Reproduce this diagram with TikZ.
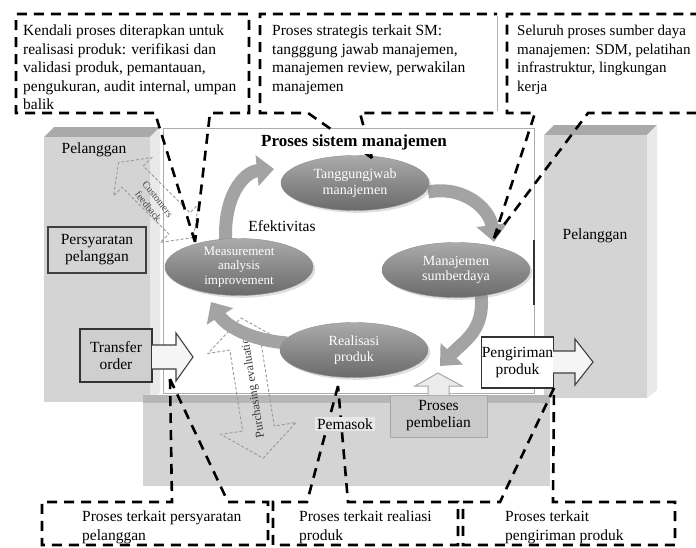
\documentclass[tikz,border=0pt]{standalone}
\usepackage{fontspec}
\setmainfont{Liberation Serif}
\usetikzlibrary{arrows.meta,shapes.geometric,shadows}
\definecolor{boxfront}{HTML}{D4D4D4}
\definecolor{boxtop}{HTML}{A9A9A9}
\definecolor{boxside}{HTML}{E9E9E9}
\begin{document}
\begin{tikzpicture}[x=1pt,y=-1pt,
  txt/.style={font=\fontsize{15.5}{18.5}\selectfont, align=left, inner sep=0pt, anchor=north west},
  cline/.style={line width=2.6pt, dash pattern=on 10pt off 7pt, line join=miter},
  proc/.style={ellipse, minimum width=148pt, minimum height=55pt, top color=black!33, bottom color=black!58, middle color=black!46, draw=black!45, text=white, font=\fontsize{14}{15.5}\selectfont, align=center, inner sep=0pt, drop shadow={opacity=0.25}},
  flow/.style={line width=13pt, draw=black!36, -{Triangle[width=30pt,length=17pt]}},
  ghost/.style={draw=gray!80, line width=0.9pt, dash pattern=on 3pt off 2pt},
  lbl/.style={font=\fontsize{15.5}{17}\selectfont, align=center, inner sep=0pt}
]
\useasboundingbox (0,0) rectangle (696,547);

% left customer block
\fill[boxtop] (44,137) -- (54,127) -- (160,127) -- (150,137) -- cycle;
\fill[boxside] (150,137) -- (160,127) -- (160,393) -- (150,402) -- cycle;
\fill[boxfront] (44,137) rectangle (150,402);
\node[lbl] (custL) at (94,150) {Pelanggan};

% right customer block
\fill[boxtop] (544,135) -- (554,125) -- (657,125) -- (647,135) -- cycle;
\fill[boxside] (647,135) -- (657,125) -- (657,390) -- (647,398) -- cycle;
\fill[boxfront] (544,135) rectangle (647,398);
\node[lbl] (custR) at (595,236) {Pelanggan};

% supplier band
\fill[boxfront] (143,395) rectangle (550,486);
\fill[boxtop!70!boxfront] (143,395) rectangle (550,403);

% management system frame
\draw[gray!65, line width=1pt, fill=white] (163,128) rectangle (534,393);
\draw[black!80, line width=1.5pt] (534,240) -- (534,305);

% dashed exchange arrows
\begin{scope}[shift={(156,200)}, rotate=135]
\draw[ghost] (-53,0) -- (-33,-27) -- (-33,-15) -- (33,-15) -- (33,-27) -- (53,0) -- (33,27) -- (33,15) -- (-33,15) -- (-33,27) -- cycle;
\end{scope}
\node[font=\fontsize{10}{12}\selectfont, text=gray!55!black, rotate=-52, align=center, inner sep=0pt] (fb) at (153,203) {Customers\\feedback};

\begin{scope}[shift={(252,388)}, rotate=-81]
\draw[ghost] (-71,0) -- (-41,-38) -- (-41,-16) -- (41,-16) -- (41,-38) -- (71,0) -- (41,38) -- (41,16) -- (-41,16) -- (-41,38) -- cycle;
\end{scope}
\node[font=\fontsize{12}{12}\selectfont, text=gray!45!black, rotate=99, inner sep=0pt] (pe) at (253,385) {Purchasing evaluation};

% cycle arrows
\draw[flow] (226,246) .. controls (222,198) and (243,172) .. (274,169);
\draw[flow] (428,192) .. controls (465,185) and (490,210) .. (494,242);
\draw[flow] (481,294) .. controls (485,330) and (465,340) .. (440,366);
\draw[flow] (287,343) .. controls (250,340) and (226,326) .. (211,302);

% processes
\node[proc] (tj) at (355,183) {Tanggungjwab\\manajemen};
\node[proc, minimum height=50pt, font=\fontsize{13}{14.5}\selectfont] (mai) at (239,267) {Measurement\\analysis\\improvement};
\node[proc] (ms) at (456,270) {Manajemen\\sumberdaya};
\node[proc] (rp) at (354,350) {Realisasi\\produk};
\node[lbl] (ef) at (282,226) {Efektivitas};

% inputs / outputs
\node[lbl, draw=black!75, line width=1.3pt, fill=boxfront, minimum width=98pt, minimum height=46pt] (req) at (97,250) {Persyaratan\\pelanggan};
\node[lbl, draw=black!80, line width=1.3pt, fill=gray!38, minimum width=72pt, minimum height=53pt] (tro) at (116,355.5) {Transfer\\order};
\draw[black!75, line width=1.1pt, fill=gray!8] (152,345) -- (176,345) -- (176,333) -- (193,357) -- (176,381) -- (176,369) -- (152,369);
\node[lbl, draw=black!80, line width=1.2pt, fill=white, minimum width=71pt, minimum height=51pt] (kirim) at (517.5,362.5) {Pengiriman\\produk};
\draw[black!75, line width=1.1pt, fill=gray!8] (553,351) -- (575,351) -- (575,339) -- (593,362) -- (575,385) -- (575,373) -- (553,373);
\node[lbl, draw=gray!70, line width=1pt, fill=gray!42, minimum width=97pt, minimum height=42pt] (beli) at (438.5,416) {Proses\\pembelian};
\draw[gray!70, line width=1pt, fill=gray!15] (428,395) -- (428,386) -- (415,386) -- (438,373) -- (462,386) -- (449,386) -- (449,395);

% callout targets
\coordinate (tA) at (195,242);
\coordinate (tB) at (372,158);
\coordinate (tC) at (494,238);
\coordinate (tD) at (170,379);
\coordinate (tE) at (338,386);
\coordinate (tF) at (554,388);

% callout frames
\draw[cline] (tA) -- (155,113) -- (16,113) -- (16,14) -- (249,14) -- (249,113) -- (210,113) -- cycle;
\draw[cline] (tB) -- (308,113) -- (260,113) -- (260,14) -- (497,14);
\draw[cline] (tB) -- (360,113) -- (497,113);
\draw[gray!60, line width=0.6pt] (497,16) -- (497,111);
\draw[cline] (tC) -- (535,113) -- (507,113) -- (507,14) -- (696,14);
\draw[cline] (tC) -- (588,113) -- (696,113);
\draw[cline] (tD) -- (172,502) -- (42,502) -- (42,545) -- (268,545) -- (268,502) -- (228,502) -- cycle;
\draw[cline] (tE) -- (307,502) -- (273,502) -- (273,545) -- (458,545) -- (458,502) -- (348,502) -- cycle;
\draw[cline] (tF) -- (500,502) -- (463,502) -- (463,545) -- (675,545) -- (675,502) -- (553,502) -- cycle;

% labels with backgrounds
\node[lbl, fill=boxfront!55!white, inner sep=2pt] (supp) at (345,424) {Pemasok};
\node[font=\bfseries\fontsize{17}{19}\selectfont, fill=white, inner xsep=3pt, inner ysep=4pt] (title) at (354,142) {Proses sistem manajemen};

% callout texts
\node[txt] (kA) at (23,25) {Kendali proses diterapkan untuk\\realisasi produk: verifikasi dan\\validasi produk, pemantauan,\\pengukuran, audit internal, umpan\\balik};
\node[txt] (kB) at (272,25) {Proses strategis terkait SM:\\tangggung jawab manajemen,\\manajemen review, perwakilan\\manajemen};
\node[txt, font=\fontsize{15}{18.5}\selectfont] (kC) at (517,25) {Seluruh proses sumber daya\\manajemen: SDM, pelatihan\\infrastruktur, lingkungan\\kerja};
\node[txt] (kD) at (82,511) {Proses terkait persyaratan\\pelanggan};
\node[txt] (kE) at (299,511) {Proses terkait realiasi\\produk};
\node[txt] (kF) at (505,511) {Proses terkait\\pengiriman produk};
\end{tikzpicture}
\end{document}
